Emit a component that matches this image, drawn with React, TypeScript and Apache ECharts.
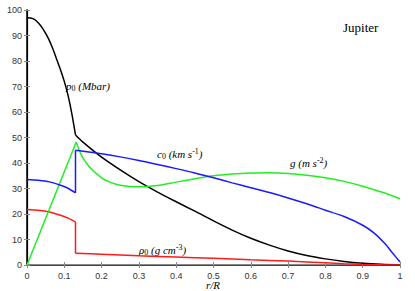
import React, { useEffect, useRef } from "react";
import * as echarts from "echarts";

const xTicks = [0, 0.1, 0.2, 0.3, 0.4, 0.5, 0.6, 0.7, 0.8, 0.9, 1];

const pressureX = [0, 0.01, 0.02, 0.03, 0.04, 0.05, 0.06, 0.07, 0.08, 0.09, 0.1, 0.11, 0.12, 0.13, 0.15, 0.2, 0.25, 0.3, 0.35, 0.4, 0.45, 0.5, 0.55, 0.6, 0.65, 0.7, 0.75, 0.8, 0.85, 0.9, 0.95, 1];
const pressureY = [97, 96.9, 96.3, 95, 93.2, 90.8, 88, 84.5, 80.5, 76.5, 72, 66.5, 59.5, 51, 48.2, 42.3, 37.3, 32.7, 28.6, 24.8, 21.1, 17.3, 13.7, 10.5, 7.8, 5.5, 3.7, 2.4, 1.4, 0.7, 0.25, 0];

const soundX = [0, 0.03, 0.06, 0.09, 0.11, 0.13, 0.13, 0.15, 0.2, 0.25, 0.3, 0.35, 0.4, 0.45, 0.5, 0.55, 0.6, 0.65, 0.7, 0.75, 0.8, 0.85, 0.9, 0.93, 0.96, 0.98, 1];
const soundY = [33.5, 33.2, 32.6, 31.3, 30.1, 28.3, 45, 44.6, 43.6, 42.4, 41, 39.4, 37.8, 36.1, 34.2, 32.2, 30.3, 28.4, 26.3, 24, 21.5, 19, 15.6, 12.6, 8.3, 4.7, 1.2];

const gravityX = [0, 0.132, 0.14, 0.15, 0.17, 0.2, 0.22, 0.25, 0.3, 0.35, 0.4, 0.45, 0.5, 0.55, 0.6, 0.65, 0.7, 0.75, 0.8, 0.85, 0.9, 0.95, 1];
const gravityY = [0, 48.2, 45, 42, 38, 34.2, 32.6, 31.3, 30.7, 31.2, 32.5, 33.8, 35, 35.7, 36.1, 36.2, 35.9, 35.2, 34.2, 32.8, 30.9, 28.6, 26];

const densityX = [0, 0.03, 0.06, 0.09, 0.11, 0.13, 0.13, 0.2, 0.3, 0.4, 0.5, 0.6, 0.7, 0.8, 0.85, 0.9, 0.95, 1];
const densityY = [21.8, 21.5, 20.8, 19.5, 18.4, 16.9, 4.6, 4.2, 3.6, 3.1, 2.6, 2.05, 1.55, 0.85, 0.5, 0.22, 0.06, 0];

const pairs = (xs: number[], ys: number[]) => xs.map((x, i) => [x, ys[i]]);

// split a curve into segments so kinks and jumps stay sharp
function splitAt(pts: number[][], k: number, shareEnd: boolean) {
  return shareEnd ? [pts.slice(0, k + 1), pts.slice(k)] : [pts.slice(0, k), [pts[k - 1], pts[k]], pts.slice(k)];
}

const serif = "'Liberation Serif', 'DejaVu Serif', serif";
const sans = "'Liberation Sans', Arial, sans-serif";

function lbl(x: number, y: number, main: string, sub: string, unit: string, sup: string) {
  return {
    type: "text",
    x,
    y,
    style: {
      text: `{m|${main}}${sub ? `{s|${sub}}` : ""}{m| (}{m|${unit}}${sup ? `{p|${sup}}` : ""}{m|)}`,
      rich: {
        m: { fontFamily: serif, fontStyle: "italic", fontSize: 11, fill: "#000", verticalAlign: "middle" },
        s: { fontFamily: serif, fontSize: 8, fill: "#000", verticalAlign: "bottom", padding: [5, 0, 0, 0] },
        p: { fontFamily: serif, fontSize: 8, fill: "#000", verticalAlign: "top", padding: [0, 0, 5, 0] },
      },
    },
  };
}

export default function App() {
  const ref = useRef<HTMLDivElement>(null);
  useEffect(() => {
    if (!ref.current) return;
    const chart = echarts.init(ref.current, null, { renderer: "svg" });
    const seg = (data: number[][], color: string, smooth: boolean) => ({
      type: "line",
      data,
      showSymbol: false,
      symbol: "none",
      smooth: smooth ? 0.3 : false,
      lineStyle: { color, width: 1.5 },
      xAxisIndex: 0,
      yAxisIndex: 0,
    });
    const p = pairs(pressureX, pressureY);
    const c = pairs(soundX, soundY);
    const g = pairs(gravityX, gravityY);
    const r = pairs(densityX, densityY);
    const [p1, p2] = splitAt(p, 13, true);
    const [c1, cj, c2] = splitAt(c, 6, false);
    const [g1, g2] = splitAt(g, 1, true);
    const [r1, rj, r2] = splitAt(r, 6, false);
    chart.setOption({
      animation: false,
      backgroundColor: "#fff",
      grid: { left: 27, right: 15, top: 10, bottom: 26, containLabel: false, outerBoundsMode: "none" },
      xAxis: [
        {
          type: "value",
          min: 0,
          max: 1,
          interval: 0.1,
          axisLine: { show: true, lineStyle: { color: "#888", width: 2 } },
          axisTick: { show: true, inside: true, length: 3, lineStyle: { color: "#888" } },
          axisLabel: {
            fontFamily: sans,
            fontSize: 9,
            color: "#333",
            margin: 6,
            formatter: (v: number) => String(Math.round(v * 10) / 10),
          },
          splitLine: { show: false },
        },
        {
          type: "value",
          position: "top",
          min: 0,
          max: 1,
          interval: 0.1,
          axisLine: { show: true, lineStyle: { color: "#444", width: 1 } },
          axisTick: { show: true, inside: true, length: 3, lineStyle: { color: "#888" } },
          axisLabel: { show: false },
          splitLine: { show: false },
        },
      ],
      yAxis: [
        {
          type: "value",
          min: 0,
          max: 100,
          interval: 10,
          axisLine: { show: true, lineStyle: { color: "#000", width: 1.5 } },
          axisTick: { show: true, inside: true, length: 3, lineStyle: { color: "#888" } },
          axisLabel: { fontFamily: sans, fontSize: 9, color: "#333", margin: 5 },
          splitLine: { show: false },
        },
        {
          type: "value",
          position: "right",
          min: 0,
          max: 100,
          interval: 10,
          axisLine: { show: true, lineStyle: { color: "#000", width: 1.2 } },
          axisTick: { show: true, inside: true, length: 3, lineStyle: { color: "#888" } },
          axisLabel: { show: false },
          splitLine: { show: false },
        },
      ],
      series: [
        seg(p1, "#000000", true),
        seg(p2, "#000000", true),
        seg(r1, "#ff1a1a", true),
        seg(rj, "#ff1a1a", false),
        seg(r2, "#ff1a1a", true),
        seg(g1, "#22ee22", false),
        seg(g2, "#22ee22", true),
        seg(c1, "#1a1aff", true),
        seg(cj, "#1a1aff", false),
        seg(c2, "#1a1aff", true),
      ],
      graphic: [
        {
          type: "text",
          x: 343,
          y: 21,
          style: { text: "Jupiter", fontFamily: serif, fontSize: 13, fill: "#000" },
        },
        {
          type: "text",
          x: 213,
          y: 285,
          style: {
            text: "r/R",
            fontFamily: serif,
            fontStyle: "italic",
            fontSize: 11,
            fill: "#000",
            align: "center",
            verticalAlign: "middle",
          },
        },
        lbl(66, 79, "p", "0", "Mbar", ""),
        lbl(157, 147, "c", "0", "km s", "-1"),
        lbl(290, 156, "g", "", "m s", "-2"),
        lbl(139, 243, "ρ", "0", "g cm", "-3"),
      ],
    });
    return () => chart.dispose();
  }, []);
  return <div ref={ref} style={{ width: 415, height: 291, position: "fixed", left: 0, top: 0 }} />;
}
